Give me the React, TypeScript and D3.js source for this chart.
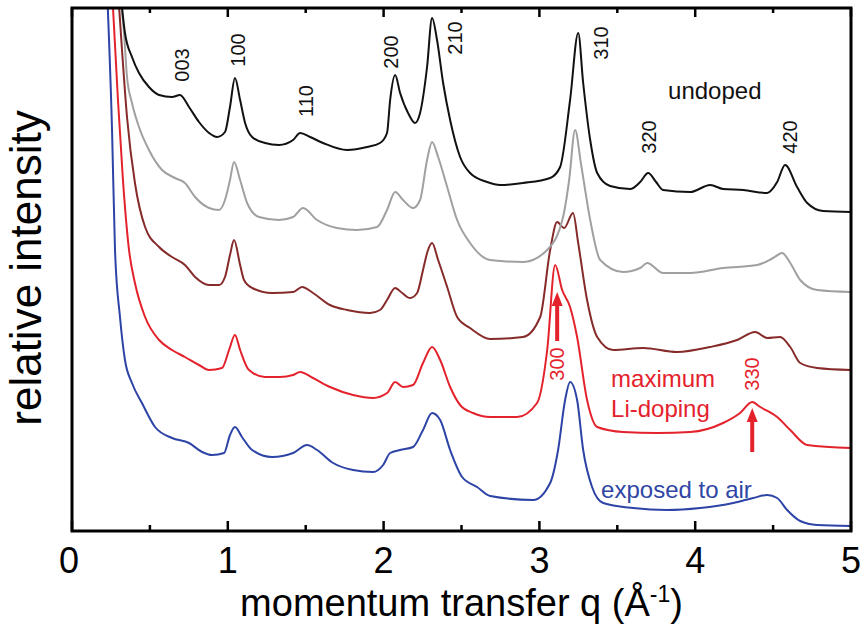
import React from 'react';
import * as d3 from 'd3';

const W = 866;
const H = 626;
const BOX = { left: 72, right: 851, top: 8, bottom: 531 };

const xTicks = [0, 1, 2, 3, 4, 5];
const xMinorTicks = [0.5, 1.5, 2.5, 3.5, 4.5];

// [q (1/Å), relative intensity (arb. units, offset)]
const undoped: [number, number][] = [
  [0.31, 543], [0.34, 500], [0.385, 476], [0.43, 460], [0.494, 446], [0.559, 438], [0.642, 436], [0.693, 438],
  [0.751, 426], [0.815, 411], [0.88, 400], [0.931, 396], [0.982, 401], [1.014, 426], [1.046, 455], [1.079, 433],
  [1.111, 410], [1.156, 396], [1.239, 390], [1.329, 388], [1.419, 393], [1.464, 400], [1.528, 396], [1.611, 390],
  [1.766, 383], [1.894, 386], [1.977, 390], [2.022, 400], [2.042, 433], [2.074, 458], [2.106, 440], [2.157, 420],
  [2.202, 410], [2.234, 420], [2.279, 466], [2.311, 515], [2.343, 493], [2.382, 450], [2.427, 413], [2.491, 376],
  [2.555, 360], [2.664, 351], [2.748, 348], [2.895, 350], [3.069, 355], [3.133, 366], [3.197, 433], [3.249, 500],
  [3.281, 450], [3.326, 393], [3.371, 360], [3.454, 347], [3.582, 344], [3.647, 351], [3.698, 360], [3.749, 351],
  [3.794, 343], [3.968, 341], [4.096, 348], [4.179, 344], [4.308, 343], [4.462, 340], [4.526, 351], [4.577, 368],
  [4.654, 346], [4.719, 330], [4.821, 322], [5.0, 321],
];

const intermediate1: [number, number][] = [
  [0.302, 543], [0.334, 500], [0.353, 456], [0.385, 430], [0.43, 406], [0.494, 383], [0.578, 363], [0.661, 355],
  [0.725, 350], [0.79, 336], [0.88, 325], [0.944, 323], [0.982, 333], [1.014, 353], [1.04, 371], [1.079, 353],
  [1.124, 330], [1.201, 316], [1.329, 313], [1.419, 316], [1.483, 325], [1.573, 313], [1.701, 305], [1.83, 303],
  [1.958, 306], [2.022, 323], [2.074, 341], [2.125, 333], [2.189, 325], [2.234, 333], [2.279, 373], [2.311, 391],
  [2.35, 376], [2.408, 346], [2.472, 313], [2.555, 290], [2.684, 273], [2.895, 271], [3.05, 283], [3.152, 316],
  [3.191, 353], [3.229, 403], [3.268, 368], [3.326, 313], [3.39, 273], [3.537, 261], [3.647, 265], [3.692, 270],
  [3.794, 260], [3.968, 260], [4.179, 265], [4.398, 268], [4.5, 275], [4.558, 280], [4.61, 270], [4.674, 253],
  [4.783, 243], [5.0, 241],
];

const intermediate2: [number, number][] = [
  [0.295, 543], [0.321, 483], [0.353, 416], [0.404, 350], [0.469, 306], [0.559, 286], [0.642, 276], [0.725, 268],
  [0.79, 256], [0.88, 248], [0.944, 248], [0.982, 256], [1.014, 278], [1.04, 293], [1.079, 268], [1.104, 253],
  [1.156, 245], [1.284, 240], [1.419, 241], [1.477, 246], [1.547, 240], [1.656, 228], [1.766, 223], [1.913, 220],
  [1.977, 223], [2.022, 233], [2.074, 245], [2.119, 240], [2.17, 235], [2.215, 240], [2.253, 263], [2.285, 283],
  [2.311, 290], [2.35, 273], [2.408, 246], [2.472, 216], [2.555, 205], [2.684, 194], [2.895, 196], [3.005, 216],
  [3.069, 283], [3.114, 311], [3.159, 305], [3.216, 320], [3.249, 290], [3.306, 233], [3.371, 196], [3.473, 183],
  [3.666, 185], [3.884, 181], [4.096, 186], [4.269, 193], [4.385, 201], [4.462, 195], [4.545, 196], [4.61, 186],
  [4.674, 170], [4.783, 165], [5.0, 163],
];

const maxDoped: [number, number][] = [
  [0.257, 543], [0.295, 433], [0.327, 353], [0.366, 283], [0.404, 250], [0.469, 216], [0.559, 193], [0.642, 183],
  [0.725, 176], [0.815, 168], [0.88, 163], [0.963, 165], [1.008, 183], [1.046, 198], [1.079, 183], [1.136, 163],
  [1.239, 156], [1.335, 156], [1.419, 158], [1.464, 161], [1.547, 155], [1.656, 146], [1.804, 138], [1.932, 135],
  [2.022, 140], [2.074, 151], [2.125, 146], [2.189, 148], [2.253, 170], [2.311, 186], [2.363, 173], [2.427, 146],
  [2.491, 128], [2.574, 120], [2.684, 116], [2.857, 116], [2.985, 130], [3.05, 183], [3.101, 268], [3.146, 243],
  [3.197, 226], [3.242, 196], [3.306, 133], [3.371, 106], [3.537, 101], [3.756, 100], [3.968, 101], [4.179, 110],
  [4.288, 120], [4.366, 131], [4.417, 126], [4.526, 116], [4.61, 103], [4.719, 88], [5.0, 85],
];

const exposedAir: [number, number][] = [
  [0.225, 543], [0.257, 403], [0.276, 283], [0.308, 216], [0.34, 173], [0.385, 150], [0.449, 130], [0.533, 106],
  [0.642, 95], [0.751, 90], [0.835, 81], [0.899, 78], [0.976, 80], [1.014, 98], [1.046, 106], [1.091, 96],
  [1.156, 83], [1.284, 76], [1.419, 80], [1.509, 88], [1.573, 83], [1.676, 70], [1.804, 63], [1.932, 61],
  [1.997, 68], [2.042, 80], [2.106, 83], [2.189, 86], [2.253, 103], [2.311, 120], [2.363, 113], [2.427, 83],
  [2.504, 56], [2.6, 46], [2.684, 37], [2.96, 33], [3.069, 50], [3.12, 83], [3.165, 133], [3.197, 151],
  [3.242, 133], [3.281, 83], [3.338, 46], [3.409, 30], [3.602, 25], [3.82, 23], [4.032, 25], [4.244, 30],
  [4.372, 35], [4.462, 38], [4.526, 35], [4.59, 23], [4.674, 12], [4.783, 8], [5.0, 7],
];

const seriesColors = ['#2d44a6', '#e4222c', '#862a2a', '#a0a0a0', '#111111'];
const seriesData = [exposedAir, maxDoped, intermediate2, intermediate1, undoped];

const peakLabels = ['003', '100', '110', '200', '210', '310', '320', '420'];
const peakLabelQ = [0.706, 1.066, 1.502, 2.048, 2.459, 3.396, 3.704, 4.61];
const peakLabelI = [468, 483, 432, 481, 495, 490, 396, 396];

const redPeakLabels = ['300', '330'];
const redPeakLabelQ = [3.114, 4.366];
const redPeakLabelI = [169, 159];

const arrowQ = [3.114, 4.366];
const arrowFromI = [192, 81];
const arrowToI = [241, 125];

const FONT = '"Liberation Sans", Arial, Helvetica, sans-serif';

export default function App() {
  const x = d3.scaleLinear().domain([0, 5]).range([BOX.left, BOX.right]);
  const y = d3.scaleLinear().domain([2, 525]).range([BOX.bottom, BOX.top]);
  const line = d3
    .line<[number, number]>()
    .x((d) => x(d[0]))
    .y((d) => y(d[1]))
    .curve(d3.curveMonotoneX);

  const red = '#e4222c';
  const blue = '#2f46a4';

  return (
    <svg
      width={W}
      height={H}
      viewBox={`0 0 ${W} ${H}`}
      style={{ position: 'fixed', left: 0, top: 0, background: '#fff' }}
      fontFamily={FONT}
    >
      <defs>
        <clipPath id="plotClip">
          <rect x={BOX.left} y={BOX.top} width={BOX.right - BOX.left} height={BOX.bottom - BOX.top} />
        </clipPath>
      </defs>
      <rect x={0} y={0} width={W} height={H} fill="#fff" />

      <g clipPath="url(#plotClip)">
        {seriesData.map((d, i) => (
          <path key={i} d={line(d) || ''} fill="none" stroke={seriesColors[i]} strokeWidth={2} strokeLinejoin="round" />
        ))}
      </g>

      {/* peak labels */}
      {peakLabels.map((t, i) => (
        <text
          key={t}
          transform={`translate(${x(peakLabelQ[i])},${y(peakLabelI[i])}) rotate(-90)`}
          textAnchor="middle"
          dominantBaseline="central"
          fontSize={20}
          fill="#111"
        >
          {t}
        </text>
      ))}
      {redPeakLabels.map((t, i) => (
        <text
          key={t}
          transform={`translate(${x(redPeakLabelQ[i])},${y(redPeakLabelI[i])}) rotate(-90)`}
          textAnchor="middle"
          dominantBaseline="central"
          fontSize={20}
          fill={red}
        >
          {t}
        </text>
      ))}

      {/* arrows */}
      {arrowQ.map((q, i) => {
        const ax = x(q);
        const y0 = y(arrowFromI[i]);
        const y1 = y(arrowToI[i]);
        return (
          <g key={i}>
            <line x1={ax} x2={ax} y1={y0} y2={y1 + 10} stroke={red} strokeWidth={4} />
            <path d={`M${ax},${y1} L${ax - 5.5},${y1 + 14} L${ax + 5.5},${y1 + 14} Z`} fill={red} />
          </g>
        );
      })}

      {/* series labels */}
      <text x={x(3.826)} y={y(434)} fontSize={24} fill="#111">undoped</text>
      <text x={x(3.46)} y={y(146)} fontSize={24} fill={red}>maximum</text>
      <text x={x(3.46)} y={y(116)} fontSize={24} fill={red}>Li-doping</text>
      <text x={x(3.396)} y={y(35)} fontSize={24} fill={blue}>exposed to air</text>

      {/* frame */}
      <rect
        x={BOX.left}
        y={BOX.top}
        width={BOX.right - BOX.left}
        height={BOX.bottom - BOX.top}
        fill="none"
        stroke="#000"
        strokeWidth={3}
      />

      {/* ticks */}
      {xTicks.map((t) => (
        <g key={'M' + t}>
          <line x1={x(t)} x2={x(t)} y1={BOX.bottom} y2={BOX.bottom - 10} stroke="#000" strokeWidth={2.5} />
          <line x1={x(t)} x2={x(t)} y1={BOX.top} y2={BOX.top + 9} stroke="#000" strokeWidth={2.5} />
        </g>
      ))}
      {xMinorTicks.map((t) => (
        <g key={'m' + t}>
          <line x1={x(t)} x2={x(t)} y1={BOX.bottom} y2={BOX.bottom - 6} stroke="#000" strokeWidth={2.5} />
          <line x1={x(t)} x2={x(t)} y1={BOX.top} y2={BOX.top + 5} stroke="#000" strokeWidth={2.5} />
        </g>
      ))}
      {xTicks.map((t) => (
        <text key={'l' + t} x={x(t) - (t === 0 ? 3 : 0)} y={573} textAnchor="middle" fontSize={36} fill="#000">
          {t}
        </text>
      ))}

      {/* axis titles */}
      <text x={(BOX.left + BOX.right) / 2} y={616} textAnchor="middle" fontSize={38} fill="#000">
        momentum transfer q (Å
        <tspan dy={-14} fontSize={23}>-1</tspan>
        <tspan dy={14}>)</tspan>
      </text>
      <text
        transform={`translate(41,268) rotate(-90)`}
        textAnchor="middle"
        fontSize={44}
        fill="#000"
      >
        relative intensity
      </text>
    </svg>
  );
}
